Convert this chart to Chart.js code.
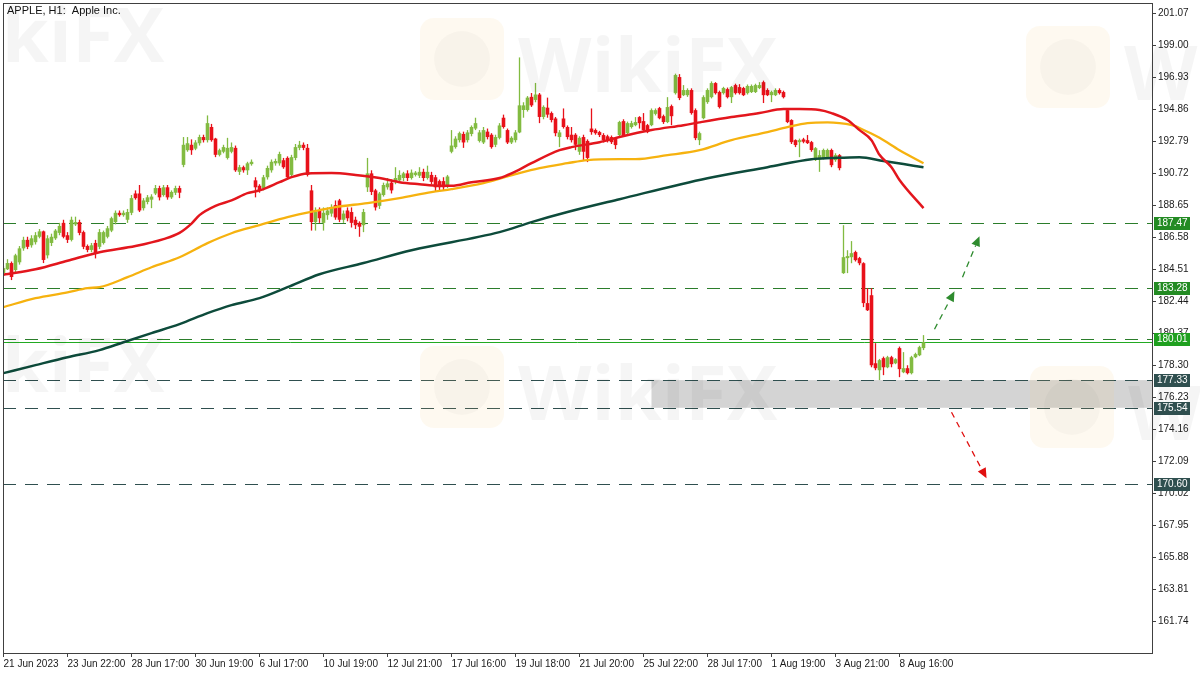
<!doctype html>
<html>

<head>
	<title>APPLE, H1</title>
	<script src="https://cdn.jsdelivr.net/npm/chart.js@4.4.1/dist/chart.umd.min.js"></script>
	<style>
		html, body {
			margin: 0;
			padding: 0;
			background: #fff;
		}
		canvas {
			display: block;
		}
	</style>
</head>

<body>
	<canvas id="chart-area" width="1200" height="675"></canvas>
	<script>
		// bottom axis: bar index of each time label
		const timeLabelBars = [0, 16, 32, 48, 64, 80, 96, 112, 128, 144, 160, 176, 192, 208, 224];
		const timeLabels = [
			'21 Jun 2023', '23 Jun 22:00', '28 Jun 17:00', '30 Jun 19:00', '6 Jul 17:00',
			'10 Jul 19:00', '12 Jul 21:00', '17 Jul 16:00', '19 Jul 18:00', '21 Jul 20:00',
			'25 Jul 22:00', '28 Jul 17:00', '1 Aug 19:00', '3 Aug 21:00', '8 Aug 16:00'
		];
		const priceTicks = [161.74, 163.81, 165.88, 167.95, 170.02, 172.09, 174.16, 176.23, 178.30, 180.37,
			182.44, 184.51, 186.58, 188.65, 190.72, 192.79, 194.86, 196.93, 199.00, 201.07];

		// H1 candles: [open, high, low, close]
		const candles = [
			[184.25, 184.7, 184.1, 184.57], [184.5, 185.15, 184.45, 184.9], [184.9, 185.0, 183.8, 184.0], [184.45, 185.5, 184.3, 185.4],
			[184.95, 186.0, 184.8, 185.85], [185.85, 186.6, 185.7, 186.4], [186.4, 186.6, 185.8, 185.95], [186.05, 186.7, 185.9, 186.5],
			[186.25, 186.9, 186.1, 186.7], [186.6, 187.1, 186.5, 186.95], [186.95, 187.0, 184.9, 185.1], [185.4, 186.7, 185.2, 186.5],
			[186.2, 186.8, 186.0, 186.6], [186.5, 187.1, 186.4, 187.0], [186.85, 187.5, 186.7, 187.3], [187.5, 187.7, 186.5, 186.6],
			[186.7, 186.9, 186.2, 186.4], [186.4, 187.9, 186.3, 187.7], [187.4, 187.9, 187.3, 187.55], [187.55, 187.7, 186.7, 186.85],
			[186.9, 187.0, 185.8, 185.95], [186.0, 186.1, 185.6, 185.75], [185.75, 186.2, 185.6, 186.05], [186.2, 186.4, 185.2, 185.55],
			[185.95, 187.1, 185.8, 186.9], [186.2, 187.0, 186.1, 186.9], [186.6, 187.3, 186.5, 187.15], [187.0, 187.9, 186.9, 187.8],
			[187.55, 188.3, 187.4, 188.15], [188.15, 188.3, 187.9, 188.0], [188.0, 188.3, 187.9, 188.15], [187.7, 188.4, 187.5, 188.2],
			[188.15, 189.3, 188.0, 189.1], [189.4, 189.6, 189.0, 189.1], [189.4, 189.95, 188.2, 188.3], [188.45, 189.1, 188.3, 188.95],
			[188.85, 189.3, 188.7, 189.15], [189.0, 189.35, 188.45, 189.2], [189.4, 189.95, 189.3, 189.75], [189.75, 189.9, 188.95, 189.15],
			[189.3, 189.95, 189.2, 189.8], [189.8, 189.95, 189.0, 189.15], [189.15, 189.6, 189.05, 189.5], [189.45, 189.9, 189.3, 189.75],
			[189.75, 189.9, 189.1, 189.45], [191.25, 193.05, 191.1, 192.55], [192.2, 193.05, 192.1, 192.65], [192.55, 192.9, 191.9, 192.2],
			[192.3, 192.85, 192.2, 192.7], [192.65, 193.2, 192.5, 193.05], [193.05, 193.2, 192.7, 192.85], [192.85, 194.45, 192.7, 193.95],
			[193.7, 193.9, 192.75, 192.85], [192.95, 193.0, 191.75, 191.9], [191.9, 192.3, 191.8, 192.2], [192.1, 192.55, 192.0, 192.4],
			[191.7, 193.0, 191.6, 192.35], [192.1, 192.7, 192.0, 192.4], [192.35, 192.5, 190.8, 190.9], [190.8, 191.25, 190.6, 191.1],
			[191.1, 191.2, 190.75, 190.9], [190.9, 191.45, 190.6, 191.35], [191.3, 191.6, 191.2, 191.45], [190.25, 190.45, 189.15, 189.8],
			[189.9, 190.0, 189.45, 189.6], [189.75, 190.6, 189.6, 190.45], [190.45, 191.2, 190.3, 191.05], [190.9, 191.6, 190.75, 191.45],
			[191.35, 191.65, 191.2, 191.5], [191.35, 192.1, 191.2, 191.95], [191.55, 191.7, 191.0, 191.1], [191.7, 191.8, 190.3, 190.45],
			[190.6, 191.9, 190.4, 191.75], [191.7, 192.6, 191.55, 192.4], [192.35, 192.8, 192.2, 192.55], [192.55, 192.7, 192.2, 192.35],
			[192.35, 192.6, 190.5, 190.6], [189.6, 189.95, 187.0, 187.55], [187.55, 188.5, 187.0, 188.2], [188.3, 188.5, 187.5, 187.8],
			[187.5, 188.5, 187.0, 188.15], [188.0, 188.5, 187.7, 188.3], [188.1, 188.7, 187.9, 188.5], [188.65, 188.95, 187.7, 187.85],
			[188.95, 189.05, 187.55, 187.7], [187.7, 188.3, 187.5, 188.1], [188.3, 188.5, 187.6, 187.8], [188.2, 188.5, 187.2, 187.5],
			[187.7, 187.9, 187.1, 187.35], [187.5, 187.6, 186.6, 187.25], [187.35, 188.4, 186.9, 188.2], [189.8, 191.7, 189.5, 190.7],
			[190.7, 190.9, 189.3, 189.5], [189.6, 189.7, 188.3, 188.5], [188.6, 189.5, 188.4, 189.4], [189.3, 190.1, 189.2, 189.95],
			[189.8, 190.4, 189.65, 190.05], [190.1, 190.3, 189.4, 189.6], [190.15, 191.1, 190.0, 190.4], [190.25, 190.9, 190.1, 190.6],
			[190.4, 190.8, 190.2, 190.7], [190.7, 190.9, 190.2, 190.4], [190.4, 190.95, 190.3, 190.75], [190.6, 190.85, 190.5, 190.75],
			[190.55, 191.1, 190.4, 190.8], [190.8, 191.0, 190.2, 190.4], [190.4, 191.2, 190.3, 190.8], [190.6, 190.8, 190.0, 190.15],
			[190.45, 190.6, 189.5, 189.8], [190.2, 190.3, 189.6, 189.8], [190.2, 190.45, 189.6, 189.8], [189.95, 190.6, 189.75, 190.5],
			[192.1, 193.5, 192.0, 192.5], [192.4, 193.1, 192.3, 192.95], [192.85, 193.4, 192.7, 193.3], [193.25, 193.4, 192.35, 192.7],
			[192.85, 193.5, 192.7, 193.35], [193.25, 193.8, 193.1, 193.7], [193.6, 194.3, 193.5, 193.95], [192.8, 193.5, 192.7, 193.35],
			[192.7, 193.7, 192.6, 193.5], [193.4, 193.6, 192.9, 193.05], [193.2, 193.3, 192.3, 192.4], [192.55, 193.2, 192.4, 193.05],
			[193.0, 193.95, 192.9, 193.8], [194.3, 194.5, 193.6, 193.7], [193.5, 193.6, 192.6, 192.7], [192.7, 193.1, 192.6, 193.0],
			[192.85, 193.5, 192.7, 193.35], [193.35, 198.2, 193.3, 195.1], [194.8, 195.3, 194.3, 195.1], [194.8, 195.7, 194.7, 195.6],
			[195.65, 195.9, 195.0, 195.1], [195.45, 196.55, 195.3, 195.8], [195.8, 195.9, 193.95, 194.35], [194.35, 195.1, 194.2, 195.0],
			[194.95, 195.6, 194.3, 194.5], [194.6, 194.7, 194.0, 194.15], [194.25, 194.35, 193.1, 193.3], [193.05, 193.5, 192.4, 193.35],
			[194.25, 194.9, 193.6, 193.7], [193.7, 193.8, 192.9, 193.05], [193.2, 193.7, 192.7, 192.85], [193.2, 193.3, 192.2, 192.55],
			[192.1, 193.1, 191.9, 193.0], [193.05, 193.2, 191.55, 192.1], [192.8, 192.9, 191.43, 191.7], [193.6, 194.9, 193.2, 193.37],
			[193.5, 193.6, 193.2, 193.3], [193.37, 193.45, 193.05, 193.18], [193.18, 193.3, 192.7, 192.85], [193.1, 193.2, 192.7, 192.85],
			[193.05, 193.15, 192.6, 192.72], [192.92, 193.0, 192.27, 192.53], [193.18, 194.1, 193.05, 194.02], [194.08, 194.2, 193.1, 193.18],
			[193.3, 194.05, 193.2, 193.95], [193.7, 194.1, 193.6, 193.95], [193.82, 194.34, 193.75, 194.02], [194.34, 194.4, 193.6, 193.95],
			[194.08, 194.6, 193.45, 193.5], [193.82, 193.9, 193.3, 193.37], [193.82, 194.9, 193.75, 194.79], [194.55, 194.9, 194.45, 194.79],
			[194.92, 195.0, 194.2, 194.27], [194.4, 194.5, 193.9, 194.02], [194.02, 195.63, 193.95, 194.99], [195.05, 195.15, 193.82, 194.4],
			[195.89, 197.15, 195.8, 197.06], [196.93, 197.12, 195.44, 195.57], [195.76, 196.41, 195.7, 196.09], [195.76, 196.2, 195.65, 196.09],
			[196.09, 196.2, 194.5, 194.6], [194.79, 194.9, 192.85, 192.98], [192.85, 193.4, 192.53, 193.3], [194.27, 195.75, 194.2, 195.63],
			[195.31, 196.2, 195.2, 196.09], [195.63, 196.65, 195.55, 196.54], [196.54, 196.6, 195.8, 195.89], [195.96, 196.05, 194.9, 194.99],
			[195.89, 196.3, 195.8, 196.22], [196.15, 196.25, 195.55, 195.63], [195.63, 196.35, 195.25, 196.28], [196.41, 196.5, 195.8, 195.89],
			[196.28, 196.47, 195.8, 195.89], [196.22, 196.3, 195.7, 195.76], [195.89, 196.45, 195.8, 196.35], [195.96, 196.45, 195.9, 196.35],
			[195.96, 196.5, 195.9, 196.41], [196.22, 196.6, 196.15, 196.41], [196.6, 196.7, 195.25, 195.76], [196.09, 196.2, 195.7, 195.76],
			[195.76, 196.05, 195.31, 195.96], [195.76, 196.2, 195.7, 196.09], [196.09, 196.2, 195.8, 195.89], [195.96, 196.05, 195.55, 195.63],
			[194.79, 194.9, 193.95, 194.02], [194.15, 194.2, 192.6, 192.72], [192.85, 192.9, 192.4, 192.53], [192.72, 192.95, 191.75, 192.85],
			[192.9, 193.0, 192.65, 192.75], [192.85, 193.18, 192.6, 192.66], [192.72, 192.8, 192.1, 192.21], [191.56, 192.4, 191.5, 192.33],
			[191.6, 192.2, 190.8, 191.88], [191.69, 192.3, 191.6, 192.21], [191.75, 192.3, 191.65, 192.21], [192.21, 192.3, 191.1, 191.23],
			[191.56, 192.0, 191.45, 191.88], [191.88, 191.95, 190.9, 191.04], [184.25, 187.35, 184.2, 185.28], [185.22, 185.73, 184.25, 185.35],
			[185.28, 186.32, 184.89, 185.54], [185.61, 185.7, 185.0, 185.09], [185.22, 185.3, 184.76, 184.89], [184.89, 184.95, 182.05, 182.31],
			[182.31, 183.28, 181.8, 181.85], [182.82, 183.28, 178.16, 178.29], [178.42, 179.72, 177.97, 178.1], [177.97, 178.7, 177.33, 178.62],
			[178.75, 178.85, 177.65, 178.16], [178.16, 178.9, 178.1, 178.81], [178.81, 178.9, 178.16, 178.36], [178.42, 178.75, 178.36, 178.68],
			[179.4, 179.5, 177.52, 178.04], [177.84, 179.14, 177.78, 178.1], [178.1, 178.29, 177.7, 177.78], [177.78, 178.9, 177.7, 178.81],
			[178.81, 179.1, 178.75, 179.01], [178.94, 179.55, 178.88, 179.46], [179.4, 180.24, 179.27, 179.78]
		];

		// moving averages: [bar, value]
		const fastMa = [[0, 184.15], [8, 184.5], [16, 185.05], [24, 185.6], [33, 186.0], [40, 186.45], [44, 186.85], [47, 187.45],
			[49, 188.0], [53, 188.6], [57, 188.95], [61, 189.42], [64, 189.6], [69, 190.13], [72, 190.46], [76, 190.7], [82, 190.72],
			[88, 190.6], [94, 190.4], [99, 190.13], [104, 190.0], [109, 189.9], [112, 189.9], [117, 190.13], [124, 190.4], [127, 190.7],
			[132, 191.36], [139, 192.2], [142, 192.4], [149, 192.72], [154, 193.05], [162, 193.5], [170, 193.82], [174, 194.0],
			[182, 194.34], [189, 194.6], [195, 194.86], [199, 194.86], [204, 194.8], [207, 194.6], [211, 194.15], [214, 193.5],
			[217, 192.85], [219, 191.9], [222, 191.1], [224, 190.27], [230, 188.45]];
		const midMa = [[0, 182.05], [8, 182.63], [16, 183.0], [21, 183.28], [24, 183.34], [31, 183.99], [37, 184.63], [44, 185.28],
			[51, 186.19], [57, 186.83], [64, 187.35], [71, 187.87], [79, 188.32], [83, 188.52], [91, 188.78], [99, 189.1], [107, 189.49],
			[112, 189.68], [120, 190.07], [128, 190.65], [134, 191.04], [141, 191.36], [146, 191.56], [154, 191.62], [158, 191.62],
			[166, 191.88], [174, 192.2], [182, 192.85], [191, 193.37], [196, 193.69], [201, 193.95], [206, 194.0], [209, 193.95],
			[213, 193.76], [214, 193.63], [219, 193.0], [224, 192.2], [230, 191.36]];
		const slowMa = [[0, 177.78], [8, 178.3], [16, 178.81], [24, 179.27], [30, 179.78], [37, 180.37], [44, 180.95], [51, 181.66],
			[57, 182.18], [64, 182.63], [71, 183.34], [79, 184.18], [90, 184.9], [102, 185.73], [124, 186.9], [132, 187.55],
			[141, 188.2], [154, 189.03], [176, 190.39], [191, 191.1], [202, 191.62], [207, 191.69], [214, 191.75], [220, 191.5],
			[225, 191.3], [230, 191.1]];

		const resistanceLevels = [187.47, 183.28, 180.01];
		const supportLevels = [177.33, 175.54, 170.60];
		const supportZone = [175.54, 177.33];
		const zoneStartBar = 162;
		// projections: [fromBar, fromPrice, toBar, toPrice]
		const upArrows = [[232.75, 180.62, 237.75, 183.08], [239.75, 183.99, 244, 186.64]];
		const downArrows = [[237, 175.25, 245.75, 170.98]];

		const BULL = '#82bb41';
		const BEAR = '#e8111a';
		const candleColors = candles.map((c) => (c[3] >= c[0] ? BULL : BEAR));
		const bidPrice = candles[candles.length - 1][3];

		Chart.defaults.font.family = '"Liberation Sans", Arial, sans-serif';
		Chart.defaults.font.size = 10;
		Chart.defaults.color = '#1a1a1a';

		function drawArrow(ctx, x1, y1, x2, y2, color) {
			const ang = Math.atan2(y2 - y1, x2 - x1);
			const head = 10;
			const bx = x2 - head * Math.cos(ang);
			const by = y2 - head * Math.sin(ang);
			ctx.strokeStyle = color;
			ctx.fillStyle = color;
			ctx.lineWidth = 1.3;
			ctx.setLineDash([6, 5]);
			ctx.beginPath();
			ctx.moveTo(x1, y1);
			ctx.lineTo(bx, by);
			ctx.stroke();
			ctx.setLineDash([]);
			ctx.beginPath();
			ctx.moveTo(x2, y2);
			ctx.lineTo(bx + 4.5 * Math.sin(ang), by - 4.5 * Math.cos(ang));
			ctx.lineTo(bx - 4.5 * Math.sin(ang), by + 4.5 * Math.cos(ang));
			ctx.closePath();
			ctx.fill();
		}

		function drawWatermarks(ctx) {
			const marks = [[420, 18], [1026, 26], [420, 346], [1030, 366], [-193, -12], [-193, 318]];
			ctx.save();
			marks.forEach(([lx, ly]) => {
				ctx.fillStyle = 'rgba(244, 205, 130, 0.12)';
				ctx.beginPath();
				ctx.roundRect(lx, ly, 84, 82, 14);
				ctx.fill();
				ctx.fillStyle = 'rgba(0, 0, 0, 0.025)';
				ctx.beginPath();
				ctx.arc(lx + 42, ly + 41, 28, 0, Math.PI * 2);
				ctx.fill();
				ctx.fillStyle = 'rgba(0, 0, 0, 0.04)';
				ctx.font = 'bold 76px "Open Sans"';
				ctx.textBaseline = 'alphabetic';
				ctx.textAlign = 'left';
				ctx.fillText('WikiFX', lx + 98, ly + 74);
			});
			ctx.restore();
		}

		const chartDecor = {
			id: 'chartDecor',
			beforeDatasetsDraw(chart) {
				const {ctx, chartArea: a, scales: {x, y}} = chart;
				ctx.save();
				ctx.beginPath();
				ctx.rect(a.left, a.top, a.right - a.left, a.bottom - a.top);
				ctx.clip();
				const zx = x.getPixelForValue(zoneStartBar);
				const zt = y.getPixelForValue(supportZone[1]);
				const zb = y.getPixelForValue(supportZone[0]);
				ctx.fillStyle = '#d4d4d4';
				ctx.fillRect(zx, zt, a.right - zx, zb - zt);
				const hline = (v, color) => {
					const py = Math.round(y.getPixelForValue(v)) + 0.5;
					ctx.strokeStyle = color;
					ctx.beginPath();
					ctx.moveTo(a.left, py);
					ctx.lineTo(a.right, py);
					ctx.stroke();
				};
				ctx.lineWidth = 1;
				ctx.setLineDash([13, 9]);
				resistanceLevels.forEach((v) => hline(v, '#2b7d2b'));
				supportLevels.forEach((v) => hline(v, '#2f4f4f'));
				ctx.setLineDash([]);
				hline(bidPrice, '#22aa22');
				ctx.restore();
			},
			afterDatasetsDraw(chart) {
				const {ctx, scales: {x, y}} = chart;
				ctx.save();
				upArrows.forEach((p) => drawArrow(ctx, x.getPixelForValue(p[0]), y.getPixelForValue(p[1]),
					x.getPixelForValue(p[2]), y.getPixelForValue(p[3]), '#2e8b2e'));
				downArrows.forEach((p) => drawArrow(ctx, x.getPixelForValue(p[0]), y.getPixelForValue(p[1]),
					x.getPixelForValue(p[2]), y.getPixelForValue(p[3]), '#e01010'));
				ctx.restore();
			},
			afterDraw(chart) {
				const {ctx, chartArea: a, scales: {y}} = chart;
				ctx.save();
				drawWatermarks(ctx);
				// frame
				ctx.strokeStyle = '#404040';
				ctx.lineWidth = 1;
				ctx.strokeRect(a.left + 0.5, a.top + 0.5, a.right - a.left, a.bottom - a.top);
				// price labels of the levels
				ctx.font = '10px "Liberation Sans"';
				ctx.textBaseline = 'middle';
				ctx.textAlign = 'left';
				const tag = (v, color) => {
					const py = Math.round(y.getPixelForValue(v));
					ctx.fillStyle = color;
					ctx.fillRect(a.right + 2, py - 6, 36, 13);
					ctx.fillStyle = '#fff';
					ctx.fillText(v.toFixed(2), a.right + 5, py + 0.5);
				};
				resistanceLevels.forEach((v, i) => tag(v, i === resistanceLevels.length - 1 ? '#1fa01f' : '#238b23'));
				supportLevels.forEach((v) => tag(v, '#2f4f4f'));
				// title
				ctx.fillStyle = '#111';
				ctx.font = '11px "Liberation Sans"';
				ctx.textBaseline = 'alphabetic';
				ctx.fillText('APPLE, H1:  Apple Inc.', a.left + 4, a.top + 11);
				ctx.restore();
			}
		};

		const config = {
			type: 'bar',
			data: {
				datasets: [{
					type: 'line',
					label: 'MA fast',
					data: fastMa.map((p) => ({x: p[0], y: p[1]})),
					borderColor: '#e3161d',
					borderWidth: 2.5,
					pointRadius: 0,
					cubicInterpolationMode: 'monotone'
				}, {
					type: 'line',
					label: 'MA mid',
					data: midMa.map((p) => ({x: p[0], y: p[1]})),
					borderColor: '#f6b20f',
					borderWidth: 2.3,
					pointRadius: 0,
					cubicInterpolationMode: 'monotone'
				}, {
					type: 'line',
					label: 'MA slow',
					data: slowMa.map((p) => ({x: p[0], y: p[1]})),
					borderColor: '#0d4b3b',
					borderWidth: 2.5,
					pointRadius: 0,
					cubicInterpolationMode: 'monotone'
				}, {
					label: 'body',
					data: candles.map((c, i) => ({x: i, y: [c[0], c[3]]})),
					backgroundColor: candleColors,
					borderWidth: 0,
					barThickness: 3.6,
					minBarLength: 1.5,
					inflateAmount: 0,
					grouped: false
				}, {
					label: 'wick',
					data: candles.map((c, i) => ({x: i, y: [c[2], c[1]]})),
					backgroundColor: candleColors,
					borderWidth: 0,
					barThickness: 1.3,
					inflateAmount: 0,
					grouped: false
				}]
			},
			options: {
				responsive: false,
				animation: false,
				events: [],
				layout: {
					padding: {left: 3, top: 3, right: 0, bottom: 0}
				},
				plugins: {
					legend: {display: false},
					tooltip: {enabled: false}
				},
				scales: {
					x: {
						type: 'linear',
						position: 'bottom',
						min: -0.125,
						max: 287.125,
						offset: false,
						grid: {
							offset: false,
							drawOnChartArea: false,
							drawTicks: true,
							tickLength: 4,
							color: '#404040'
						},
						border: {display: false},
						ticks: {
							autoSkip: false,
							maxRotation: 0,
							align: 'start',
							padding: 1,
							callback: (v) => {
								const k = timeLabelBars.indexOf(v);
								return k < 0 ? null : timeLabels[k];
							}
						},
						afterBuildTicks: (scale) => {
							scale.ticks = timeLabelBars.map((v) => ({value: v}));
						},
						afterFit: (scale) => {
							scale.height = 22;
							scale.paddingLeft = 0;
							scale.paddingRight = 0;
						}
					},
					y: {
						type: 'linear',
						position: 'right',
						min: 159.68,
						max: 201.72,
						grid: {
							drawOnChartArea: false,
							drawTicks: true,
							tickLength: 4,
							color: '#404040'
						},
						border: {display: false},
						ticks: {
							padding: 2,
							callback: (v) => v.toFixed(2)
						},
						afterBuildTicks: (scale) => {
							scale.ticks = priceTicks.map((v) => ({value: v}));
						},
						afterFit: (scale) => {
							scale.width = 48;
							scale.paddingTop = 0;
							scale.paddingBottom = 0;
						}
					}
				}
			},
			plugins: [chartDecor]
		};

		window.onload = function() {
			const ctx = document.getElementById('chart-area');
			window.appleChart = new Chart(ctx, config);
		};
	</script>
</body>

</html>
